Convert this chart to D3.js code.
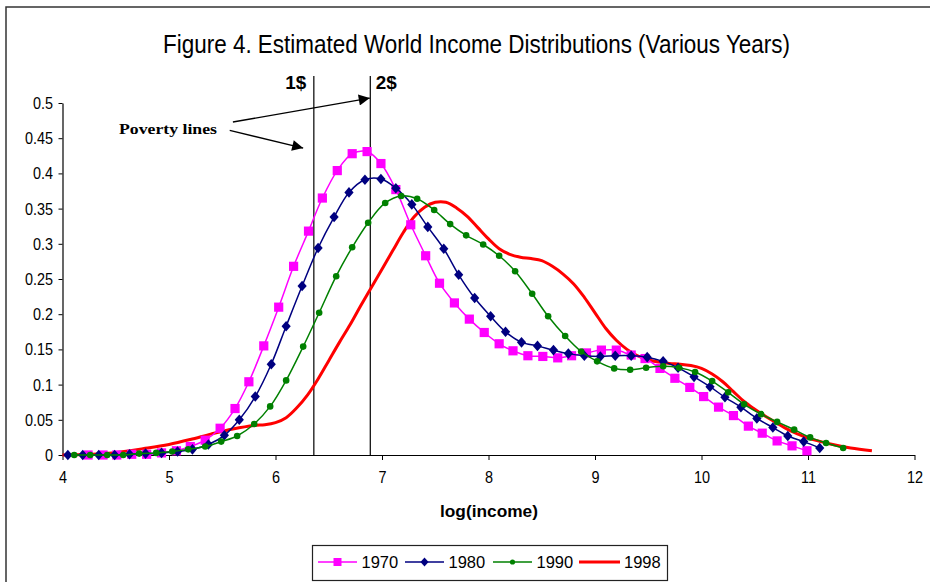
<!DOCTYPE html>
<html>
<head>
<meta charset="utf-8">
<script src="https://cdn.jsdelivr.net/npm/d3@7"></script>
<style>
  body { margin: 0; background: #fff; }
</style>
</head>
<body>
<div id="chart"></div>
<script>
// series (log income, density)
const years = ["1970", "1980", "1990", "1998"];

const x1970 = [4.24, 4.38, 4.51, 4.65, 4.79, 4.93, 5.07, 5.20, 5.34, 5.48,
  5.62, 5.75, 5.89, 6.03, 6.17, 6.31, 6.44, 6.58, 6.72, 6.86,
  6.99, 7.13, 7.27, 7.41, 7.54, 7.68, 7.82, 7.96, 8.10, 8.23,
  8.37, 8.51, 8.65, 8.78, 8.92, 9.06, 9.20, 9.34, 9.47, 9.61,
  9.75, 9.89, 10.02, 10.16, 10.30, 10.44, 10.57, 10.71, 10.85, 10.99];
const y1970 = [0, 0, 0, 0.001, 0.001, 0.003, 0.006, 0.012, 0.021, 0.038,
  0.066, 0.104, 0.155, 0.210, 0.268, 0.318, 0.365, 0.404, 0.428, 0.431,
  0.414, 0.377, 0.327, 0.283, 0.244, 0.216, 0.193, 0.174, 0.158, 0.148,
  0.141, 0.140, 0.138, 0.141, 0.145, 0.149, 0.149, 0.142, 0.137, 0.123,
  0.109, 0.096, 0.083, 0.068, 0.056, 0.041, 0.031, 0.020, 0.013, 0.006];

const x1980 = [4.05, 4.19, 4.34, 4.49, 4.63, 4.78, 4.93, 5.08, 5.22, 5.37,
  5.52, 5.66, 5.81, 5.96, 6.10, 6.25, 6.40, 6.55, 6.69, 6.84,
  6.99, 7.13, 7.28, 7.43, 7.58, 7.72, 7.87, 8.02, 8.16, 8.31,
  8.46, 8.61, 8.75, 8.90, 9.05, 9.19, 9.34, 9.49, 9.64, 9.78,
  9.93, 10.08, 10.22, 10.37, 10.52, 10.67, 10.81, 10.96, 11.11];
const y1980 = [0, 0, 0, 0, 0.001, 0.002, 0.003, 0.005, 0.008, 0.015,
  0.028, 0.050, 0.083, 0.129, 0.183, 0.240, 0.294, 0.338, 0.373, 0.391,
  0.392, 0.379, 0.356, 0.324, 0.293, 0.256, 0.223, 0.197, 0.175, 0.160,
  0.155, 0.149, 0.144, 0.141, 0.140, 0.141, 0.141, 0.139, 0.133, 0.124,
  0.111, 0.097, 0.082, 0.068, 0.052, 0.039, 0.027, 0.019, 0.010];

const x1990 = [4.11, 4.26, 4.42, 4.57, 4.72, 4.88, 5.03, 5.18, 5.34, 5.49,
  5.64, 5.80, 5.95, 6.10, 6.26, 6.41, 6.57, 6.72, 6.87, 7.03,
  7.18, 7.33, 7.49, 7.64, 7.79, 7.95, 8.10, 8.25, 8.41, 8.56,
  8.72, 8.87, 9.02, 9.18, 9.33, 9.48, 9.64, 9.79, 9.94, 10.10,
  10.25, 10.40, 10.56, 10.71, 10.87, 11.02, 11.17, 11.33];
const y1990 = [0, 0, 0, 0, 0.002, 0.003, 0.005, 0.008, 0.012, 0.019,
  0.027, 0.044, 0.069, 0.106, 0.154, 0.202, 0.254, 0.295, 0.330, 0.358,
  0.368, 0.364, 0.348, 0.328, 0.312, 0.299, 0.283, 0.261, 0.229, 0.197,
  0.169, 0.147, 0.133, 0.123, 0.121, 0.124, 0.126, 0.124, 0.118, 0.105,
  0.089, 0.072, 0.058, 0.047, 0.036, 0.025, 0.017, 0.010];

const x1998 = [4.0, 4.4, 4.8, 5.0, 5.2, 5.4, 5.6, 5.8, 5.9, 6.0,
  6.1, 6.2, 6.3, 6.4, 6.5, 6.6, 6.7, 6.8, 6.9, 7.0,
  7.1, 7.2, 7.3, 7.4, 7.5, 7.6, 7.7, 7.8, 7.9, 8.0,
  8.1, 8.2, 8.3, 8.4, 8.5, 8.6, 8.7, 8.8, 8.9, 9.0,
  9.1, 9.2, 9.3, 9.4, 9.5, 9.6, 9.7, 9.8, 9.9, 10.0,
  10.1, 10.2, 10.3, 10.4, 10.5, 10.6, 10.7, 10.8, 10.9, 11.0,
  11.2, 11.4, 11.6];
const y1998 = [0, 0.002, 0.010, 0.015, 0.022, 0.030, 0.037, 0.042, 0.043, 0.046,
  0.053, 0.067, 0.085, 0.108, 0.134, 0.160, 0.185, 0.212, 0.238, 0.264,
  0.290, 0.316, 0.338, 0.352, 0.359, 0.359, 0.351, 0.339, 0.323, 0.307,
  0.293, 0.285, 0.281, 0.279, 0.276, 0.268, 0.257, 0.243, 0.224, 0.202,
  0.180, 0.163, 0.150, 0.141, 0.135, 0.132, 0.130, 0.129, 0.127, 0.123,
  0.115, 0.104, 0.090, 0.076, 0.065, 0.055, 0.046, 0.037, 0.030, 0.024,
  0.016, 0.010, 0.006];

const xTicks = [4, 5, 6, 7, 8, 9, 10, 11, 12];
const yTicks = [0, 0.05, 0.1, 0.15, 0.2, 0.25, 0.3, 0.35, 0.4, 0.45, 0.5];
const povertyX = [6.36, 6.89];
const povertyLabels = ["1$", "2$"];

const width = 930, height = 582;
const narrow = "'Liberation Sans Narrow', 'Arial Narrow', 'Liberation Sans', Arial, sans-serif";
const sans = "'Liberation Sans', Arial, sans-serif";

const series = [
  { name: years[0], xs: x1970, ys: y1970, color: "#ff00ff", marker: "square", lw: 1.5 },
  { name: years[1], xs: x1980, ys: y1980, color: "#000080", marker: "diamond", lw: 1.5 },
  { name: years[2], xs: x1990, ys: y1990, color: "#008000", marker: "circle", lw: 1.5 },
  { name: years[3], xs: x1998, ys: y1998, color: "#ff0000", marker: null, lw: 3 }
];

const x = d3.scaleLinear().domain([4, 12]).range([62.5, 914.5]);
const y = d3.scaleLinear().domain([0, 0.5]).range([455, 103]);

const svg = d3.select("#chart")
  .append("svg")
  .attr("width", width)
  .attr("height", height);

svg.append("rect")
  .attr("width", width).attr("height", height)
  .attr("fill", "#fff");

// outer frame
svg.append("rect")
  .attr("x", 6).attr("y", 7)
  .attr("width", 940).attr("height", 600)
  .attr("fill", "none")
  .attr("stroke", "#333")
  .attr("stroke-width", 1.5);

// title
svg.append("text")
  .attr("x", 476.5).attr("y", 53)
  .attr("text-anchor", "middle")
  .attr("font-family", sans)
  .attr("font-size", 25)
  .attr("textLength", 627)
  .attr("lengthAdjust", "spacingAndGlyphs")
  .text("Figure 4. Estimated World Income Distributions (Various Years)");

// axes
const xAxis = svg.append("g")
  .attr("transform", `translate(0,${y(0)})`)
  .call(d3.axisBottom(x).tickValues(xTicks).tickSize(5).tickSizeOuter(0).tickFormat(d3.format("d")));
const yAxis = svg.append("g")
  .attr("transform", `translate(${x(4)},0)`)
  .call(d3.axisLeft(y).tickValues(yTicks).tickSize(4).tickSizeOuter(0)
    .tickFormat(d => String(+d.toFixed(2))));

[xAxis, yAxis].forEach(g => {
  g.select(".domain").attr("stroke", "#000").attr("stroke-width", 1.2);
  g.selectAll(".tick line").attr("stroke", "#000");
  g.selectAll(".tick text")
    .attr("font-family", sans)
    .attr("fill", "#000");
});
// labels in the original are horizontally squeezed
xAxis.selectAll(".tick text")
  .attr("font-size", 17)
  .attr("y", 28).attr("dy", null)
  .attr("transform", "scale(0.85,1)");
yAxis.selectAll(".tick text")
  .attr("font-size", 16)
  .attr("x", -10.6)
  .attr("dy", "0.34em")
  .attr("transform", "scale(0.9,1)");

svg.append("text")
  .attr("x", 489).attr("y", 517)
  .attr("text-anchor", "middle")
  .attr("font-family", sans)
  .attr("font-weight", "bold")
  .attr("font-size", 17)
  .attr("textLength", 98)
  .attr("lengthAdjust", "spacingAndGlyphs")
  .text("log(income)");

// poverty lines
svg.append("g")
  .selectAll("line")
  .data(povertyX)
  .join("line")
  .attr("x1", d => x(d)).attr("x2", d => x(d))
  .attr("y1", 76).attr("y2", y(0))
  .attr("stroke", "#000")
  .attr("stroke-width", 1.2);

svg.append("g")
  .selectAll("text")
  .data(povertyLabels)
  .join("text")
  .attr("x", (d, i) => i ? x(povertyX[i]) + 16 : x(povertyX[i]) - 18)
  .attr("y", 89)
  .attr("text-anchor", "middle")
  .attr("font-family", sans)
  .attr("font-weight", "bold")
  .attr("font-size", 19)
  .attr("textLength", 21)
  .attr("lengthAdjust", "spacingAndGlyphs")
  .text(d => d);

svg.append("text")
  .attr("x", 119).attr("y", 134)
  .attr("font-family", "'Liberation Serif', 'Times New Roman', serif")
  .attr("font-weight", "bold")
  .attr("font-size", 15)
  .attr("textLength", 98)
  .attr("lengthAdjust", "spacingAndGlyphs")
  .text("Poverty lines");

const defs = svg.append("defs");
defs.append("marker")
  .attr("id", "arrow")
  .attr("viewBox", "0 0 10 10")
  .attr("refX", 10).attr("refY", 5)
  .attr("markerWidth", 14).attr("markerHeight", 11)
  .attr("markerUnits", "userSpaceOnUse")
  .attr("orient", "auto")
  .append("path")
  .attr("d", "M0,0L10,5L0,10Z")
  .attr("fill", "#000");

const arrows = [
  [[5.60, 0.473], [povertyX[1] - 0.005, 0.507]],
  [[5.57, 0.461], [6.26, 0.436]]
];
svg.append("g")
  .selectAll("line")
  .data(arrows)
  .join("line")
  .attr("x1", d => x(d[0][0])).attr("y1", d => y(d[0][1]))
  .attr("x2", d => x(d[1][0])).attr("y2", d => y(d[1][1]))
  .attr("stroke", "#000")
  .attr("stroke-width", 1.3)
  .attr("marker-end", "url(#arrow)");

// curves
const line = d3.line()
  .x(d => x(d[0]))
  .y(d => y(d[1]))
  .curve(d3.curveCatmullRom);

function markerPath(type, s) {
  if (type === "square") return `M${-s},${-s}h${2 * s}v${2 * s}h${-2 * s}Z`;
  if (type === "diamond") return `M0,${-s * 1.15}L${s},0L0,${s * 1.15}L${-s},0Z`;
  return d3.symbol(d3.symbolCircle, Math.PI * s * s)();
}
const markerSize = { square: 4.6, diamond: 4.6, circle: 3.3 };

// red drawn underneath, then the marker series
const order = [series[3], series[0], series[1], series[2]];
order.forEach(s => {
  const pts = s.xs.map((v, i) => [v, s.ys[i]]);
  const g = svg.append("g");
  g.append("path")
    .attr("d", line(pts))
    .attr("fill", "none")
    .attr("stroke", s.color)
    .attr("stroke-width", s.lw)
    .attr("stroke-linejoin", "round");
  if (s.marker) {
    g.selectAll("path.mk")
      .data(pts)
      .join("path")
      .attr("class", "mk")
      .attr("transform", d => `translate(${x(d[0])},${y(d[1])})`)
      .attr("d", markerPath(s.marker, markerSize[s.marker]))
      .attr("fill", s.color);
  }
});

// legend
const legend = svg.append("g");
legend.append("rect")
  .attr("x", 312.5).attr("y", 545.5)
  .attr("width", 355).attr("height", 35)
  .attr("fill", "#fff")
  .attr("stroke", "#222")
  .attr("stroke-width", 1.2);

const legX = [318, 405, 493, 579];
series.forEach((s, i) => {
  const g = legend.append("g").attr("transform", `translate(${legX[i]},562)`);
  g.append("line")
    .attr("x1", 0).attr("x2", i === 3 ? 41 : 39)
    .attr("stroke", s.color)
    .attr("stroke-width", s.lw);
  if (s.marker) {
    g.append("path")
      .attr("transform", "translate(19.5,0)")
      .attr("d", markerPath(s.marker, s.marker === "circle" ? 2.6 : 4))
      .attr("fill", s.color);
  }
  g.append("text")
    .attr("x", i === 3 ? 45 : 43.5)
    .attr("y", 6)
    .attr("font-family", sans)
    .attr("font-size", 16.5)
    .attr("fill", "#000")
    .text(s.name);
});
</script>
</body>
</html>
